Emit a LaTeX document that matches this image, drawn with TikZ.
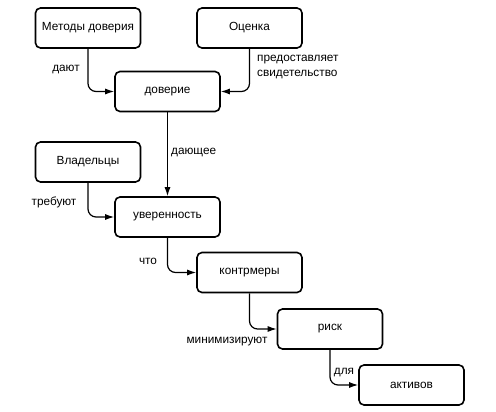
\documentclass[tikz,border=0pt]{standalone}
\usepackage{fontspec}
\setmainfont{Liberation Sans}
\usetikzlibrary{arrows.meta}
\tikzstyle{box} = [draw, line width=1.6pt, rounded corners=5pt, minimum width=105pt, minimum height=40pt, inner sep=0pt]
\tikzstyle{line} = [draw, line width=1.2pt, rounded corners=8pt, ->]
\tikzstyle{lbl} = [inner sep=0pt]

\begin{document}
\begin{tikzpicture}[x=1pt, y=-1pt, >={Latex[length=9pt,width=6pt]}, font=\fontsize{11.8}{14.5}\selectfont]
	\useasboundingbox (0,0) rectangle (496,412);
	%Kaestchen
	\node[box] (methods) at (88,28) {Методы доверия};
	\node[box] (eval) at (249.5,28) {Оценка};
	\node[box] (trust) at (167.5,91.5) {доверие};
	\node[box] (owners) at (88,162) {Владельцы};
	\node[box] (assur) at (167.5,217) {уверенность};
	\node[box] (counter) at (249.5,272.5) {контрмеры};
	\node[box] (risk) at (330,329) {риск};
	\node[box] (assets) at (411.5,385) {активов};
	%Pfeile
	\draw[line] (methods.south) |- (trust.west);
	\draw[line] (eval.south) |- (trust.east);
	\draw[line] (trust.south) -- (assur.north);
	\draw[line] (owners.south) |- (assur.west);
	\draw[line] (assur.south) |- (counter.west);
	\draw[line] (counter.south) |- (risk.west);
	\draw[line] (risk.south) |- (assets.west);
	%Beschriftungen
	\node[lbl] (give) at (66,70) {дают};
	\node[lbl, anchor=west, align=left] (provide) at (257,67) {предоставляет\\свидетельство};
	\node[lbl, anchor=west] (giving) at (171,153) {дающее};
	\node[lbl] (require) at (54,202) {требуют};
	\node[lbl] (that) at (148,261) {что};
	\node[lbl] (minimize) at (227,342) {минимизируют};
	\node[lbl] (for) at (344,373) {для};
\end{tikzpicture}
\end{document}
